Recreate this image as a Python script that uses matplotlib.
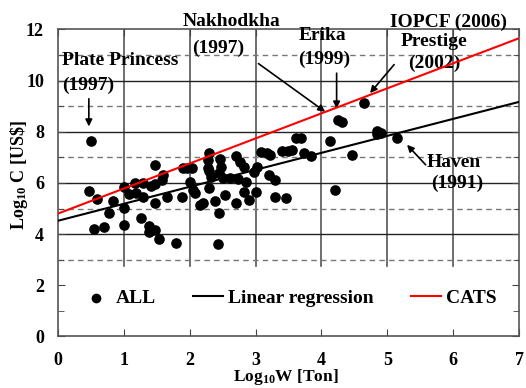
import numpy as np
import matplotlib
matplotlib.use("Agg")
import matplotlib.pyplot as plt

plt.rcParams["font.family"] = ["Liberation Serif", "DejaVu Serif"]
plt.rcParams["font.weight"] = "bold"
plt.rcParams["mathtext.fontset"] = "custom"
plt.rcParams["mathtext.rm"] = "Liberation Serif:bold"
plt.rcParams["mathtext.it"] = "Liberation Serif:bold"
plt.rcParams["mathtext.bf"] = "Liberation Serif:bold"

# observed spills: log10 weight [ton], log10 cost [US$]
log_w = [0.50, 0.47, 0.60, 0.55, 0.70, 0.77, 0.84, 1.00, 1.00, 1.00,
         1.08, 1.17, 1.18, 1.29, 1.29, 1.26, 1.39, 1.38, 1.47, 1.53,
         1.48, 1.47, 1.60, 1.58, 1.48, 1.66, 1.42, 1.80, 1.90, 1.88,
         2.03, 2.00, 2.05, 2.08, 2.15, 2.21, 2.30, 2.39, 2.44, 2.43,
         2.53, 2.70, 2.83, 2.90, 3.00, 2.30, 2.28, 2.28, 2.30, 2.33,
         2.46, 2.48, 2.45, 2.50, 2.61, 2.71, 2.76, 2.73, 2.86, 2.98,
         3.02, 3.09, 3.17, 3.22, 3.20, 3.30, 3.29, 3.46, 3.40, 3.49,
         3.56, 3.61, 3.69, 3.74, 3.84, 4.13, 4.25, 4.31, 4.64, 4.46,
         4.84, 4.85, 4.90, 5.14, 4.21, 2.83, 1.96]
log_c = [7.65, 5.70, 5.36, 4.19, 4.29, 4.84, 5.30, 5.85, 5.02, 4.36,
         5.57, 5.98, 5.62, 5.98, 5.44, 4.62, 4.32, 4.07, 4.16, 3.80,
         6.70, 5.96, 6.31, 6.11, 5.23, 5.44, 5.88, 3.66, 6.57, 5.44,
         6.57, 6.05, 5.72, 5.59, 5.14, 5.20, 5.79, 5.29, 4.81, 3.61,
         5.53, 5.20, 5.66, 5.33, 5.66, 7.18, 6.89, 6.60, 6.45, 6.24,
         6.92, 6.63, 6.37, 6.18, 6.18, 7.05, 6.83, 6.14, 6.05, 6.44,
         6.63, 7.22, 7.16, 7.09, 6.31, 6.11, 5.44, 5.40, 7.26, 7.26,
         7.29, 7.74, 7.74, 7.16, 7.05, 7.65, 8.46, 8.38, 9.11, 7.09,
         7.90, 8.04, 7.96, 7.76, 5.72, 6.62, 6.57]

line_x = [0, 7]
reg_y = [4.52, 9.17]
cats_y = [4.80, 11.66]

fig = plt.figure(figsize=(5.26, 3.88), dpi=100)
ax = fig.add_axes([0.110, 0.133, 0.877, 0.791])

# grid (stops above the legend area)
for gx in range(1, 7):
    ax.plot([gx, gx], [2.75, 12], color="#555555", lw=1.2, zorder=1)
for gy in [4, 6, 8, 10]:
    ax.axhline(gy, color="#222222", lw=1.0, zorder=1)
for gy in [3, 5, 7, 9, 11]:
    ax.axhline(gy, color="#777777", lw=1.0, ls=(0, (4, 3)), zorder=1)

ax.scatter(log_w, log_c, s=44, color="black", zorder=3, label="ALL")
ax.plot(line_x, reg_y, color="black", lw=1.5, zorder=4, label="Linear regression")
ax.plot(line_x, cats_y, color="red", lw=1.5, zorder=4, label="CATS")

ax.set_xlim(0, 7)
ax.set_ylim(0, 12)
ax.set_xticks(range(0, 8))
ax.set_yticks(range(0, 13, 2))
ax.set_yticks(range(1, 12, 2), minor=True)
ax.tick_params(axis="both", which="both", direction="in", top=True, right=True,
               labelsize=13, color="#444444")
ax.tick_params(axis="x", which="major", length=5, pad=11)
ax.tick_params(axis="y", which="major", length=5, pad=10)
ax.tick_params(axis="y", which="minor", length=4)
for sp in ax.spines.values():
    sp.set_color("#555555")
    sp.set_linewidth(1.2)

# axis titles placed by hand, as in the source they sit tight to the ticks
fig.text(286 / 526, 1 - 377 / 388, r"Log$_{\mathrm{10}}$W [Ton]", fontsize=12.5,
         fontweight="bold", ha="center", va="center")
fig.text(19 / 526, 1 - 175 / 388, r"Log$_{\mathrm{10}}$ C [US\$]", fontsize=13,
         fontweight="bold", ha="center", va="center", rotation=90)

arrow = dict(arrowstyle="-|>", color="black", lw=1.2, mutation_scale=10)
fs = 14
ax.text(0.07, 10.8, "Plate Princess", fontsize=fs, fontweight="bold", va="center", ha="left")
ax.text(0.07, 9.8, "(1997)", fontsize=fs, fontweight="bold", va="center", ha="left")
ax.annotate("", xy=(0.47, 8.1), xytext=(0.47, 9.4), arrowprops=arrow)

ax.text(2.64, 12.3, "Nakhodkha", fontsize=fs, fontweight="bold", va="center", ha="center", clip_on=False)
ax.text(2.44, 11.27, "(1997)", fontsize=fs, fontweight="bold", va="center", ha="center")
ax.annotate("", xy=(4.09, 8.72), xytext=(3.01, 10.73), arrowprops=arrow)

ax.text(4.02, 11.78, "Erika", fontsize=fs, fontweight="bold", va="center", ha="center")
ax.text(4.04, 10.83, "(1999)", fontsize=fs, fontweight="bold", va="center", ha="center")
ax.annotate("", xy=(4.23, 8.8), xytext=(4.23, 10.4), arrowprops=arrow)

ax.text(5.93, 12.28, "IOPCF (2006)", fontsize=fs, fontweight="bold", va="center", ha="center", clip_on=False)
ax.text(5.71, 11.52, "Prestige", fontsize=fs, fontweight="bold", va="center", ha="center")
ax.text(5.71, 10.67, "(2002)", fontsize=fs, fontweight="bold", va="center", ha="center")
ax.annotate("", xy=(4.71, 9.43), xytext=(5.13, 10.71), arrowprops=arrow)

ax.text(6.01, 6.8, "Haven", fontsize=fs, fontweight="bold", va="center", ha="center")
ax.text(6.06, 5.98, "(1991)", fontsize=fs, fontweight="bold", va="center", ha="center")
ax.annotate("", xy=(5.27, 7.57), xytext=(5.61, 6.63), arrowprops=arrow)

ax.legend(loc="center", bbox_to_anchor=(0.50, 0.125), ncol=3, frameon=False,
          fontsize=14, handlelength=1.55, columnspacing=1.9, handletextpad=0.25,
          markerscale=0.9)

fig.savefig("out.png", dpi=100)
